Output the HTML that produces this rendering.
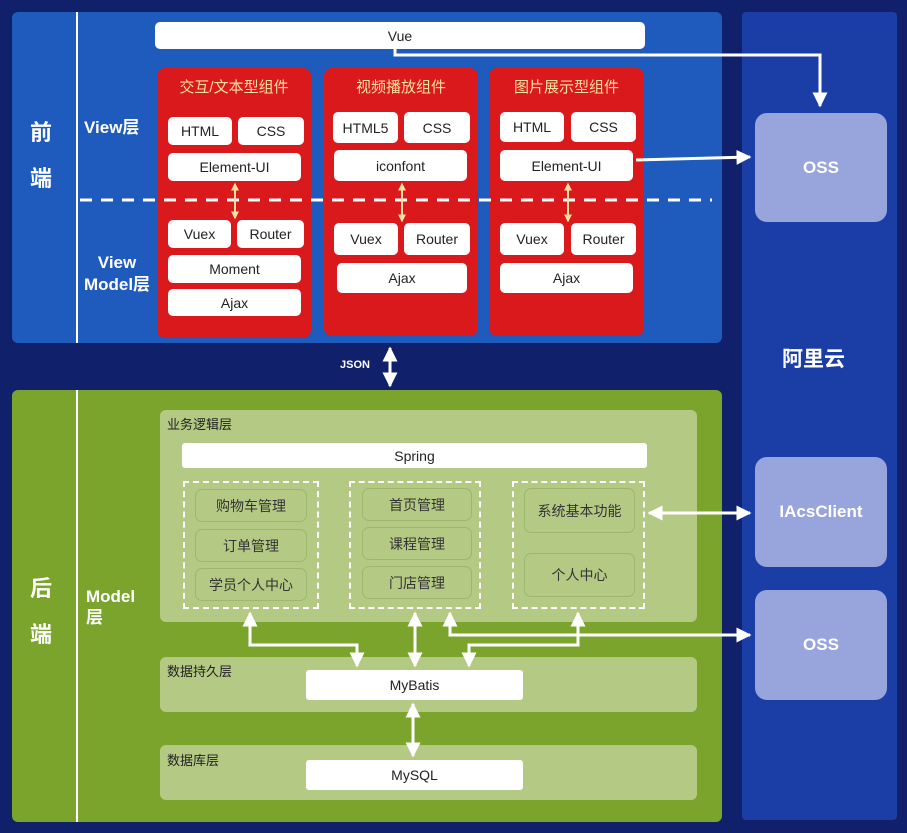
<!DOCTYPE html><html><head><meta charset="utf-8"><style>
body{margin:0;width:907px;height:833px;background:#10206a;position:relative;overflow:hidden;font-family:"Liberation Sans","Noto Sans CJK SC",sans-serif}
div{position:absolute;box-sizing:border-box}
.w{background:#fff;border-radius:5px;color:#222;font-size:14px;text-align:center;display:flex;align-items:center;justify-content:center}
.r{background:#d9191b;border-radius:8px}
.rt{color:#fbe0a0;font-size:15px;text-align:center;width:100%;top:8px}
.g{background:#b4ca84;border-radius:6px}
.gb{border:1px solid #9db86a;border-radius:7px;background:#b4ca84;color:#333;font-size:14px;display:flex;align-items:center;justify-content:center}
.dash{border:2px dashed #fff}
.oss{background:#98a4dc;border-radius:12px;color:#fff;font-weight:bold;font-size:17px;display:flex;align-items:center;justify-content:center}
.lab{color:#fff;font-weight:bold}
.gl{color:#222;font-size:13px}
</style></head><body>
<div style="left:12px;top:12px;width:710px;height:331px;background:#1e5bbd;border-radius:6px"></div>
<div style="left:76px;top:12px;width:2px;height:331px;background:#fff"></div>
<div style="left:742px;top:12px;width:155px;height:808px;background:#1a3ea6;border-radius:4px"></div>
<div style="left:12px;top:390px;width:710px;height:432px;background:#7ba42c;border-radius:6px"></div>
<div style="left:76px;top:390px;width:2px;height:432px;background:#fff"></div>

<div class="lab" style="left:30px;top:110px;font-size:22px;line-height:46px">前<br>端</div>
<div class="lab" style="left:84px;top:113px;font-size:17px">View层</div>
<div class="lab" style="left:78px;top:252px;font-size:17px;text-align:center;width:78px;line-height:22px">View<br>Model层</div>
<div class="lab" style="left:30px;top:566px;font-size:22px;line-height:46px">后<br>端</div>
<div class="lab" style="left:86px;top:586px;font-size:17px;line-height:21px">Model<br>层</div>
<div class="lab" style="left:782px;top:343px;font-size:21px">阿里云</div>
<div class="lab" style="left:340px;top:359px;font-size:11px">JSON</div>

<div class="w" style="left:155px;top:22px;width:490px;height:27px">Vue</div>

<div class="r" style="left:157px;top:68px;width:154px;height:270px"><div class="rt">交互/文本型组件</div></div>
<div class="r" style="left:324px;top:68px;width:154px;height:268px"><div class="rt">视频播放组件</div></div>
<div class="r" style="left:489px;top:68px;width:155px;height:268px"><div class="rt">图片展示型组件</div></div>

<div class="w" style="left:168px;top:117px;width:64px;height:28px">HTML</div>
<div class="w" style="left:238px;top:117px;width:66px;height:28px">CSS</div>
<div class="w" style="left:168px;top:153px;width:133px;height:28px">Element-UI</div>
<div class="w" style="left:168px;top:220px;width:63px;height:28px">Vuex</div>
<div class="w" style="left:237px;top:220px;width:67px;height:28px">Router</div>
<div class="w" style="left:168px;top:255px;width:133px;height:28px">Moment</div>
<div class="w" style="left:168px;top:289px;width:133px;height:27px">Ajax</div>

<div class="w" style="left:333px;top:112px;width:65px;height:31px">HTML5</div>
<div class="w" style="left:404px;top:112px;width:66px;height:31px">CSS</div>
<div class="w" style="left:334px;top:150px;width:133px;height:31px">iconfont</div>
<div class="w" style="left:334px;top:223px;width:64px;height:32px">Vuex</div>
<div class="w" style="left:404px;top:223px;width:66px;height:32px">Router</div>
<div class="w" style="left:337px;top:263px;width:130px;height:30px">Ajax</div>

<div class="w" style="left:500px;top:112px;width:64px;height:30px">HTML</div>
<div class="w" style="left:571px;top:112px;width:65px;height:30px">CSS</div>
<div class="w" style="left:500px;top:150px;width:133px;height:31px">Element-UI</div>
<div class="w" style="left:500px;top:223px;width:64px;height:32px">Vuex</div>
<div class="w" style="left:571px;top:223px;width:65px;height:32px">Router</div>
<div class="w" style="left:500px;top:263px;width:133px;height:30px">Ajax</div>

<div class="oss" style="left:755px;top:113px;width:132px;height:109px">OSS</div>
<div class="oss" style="left:755px;top:457px;width:132px;height:110px">IAcsClient</div>
<div class="oss" style="left:755px;top:590px;width:132px;height:110px">OSS</div>

<div class="g" style="left:160px;top:410px;width:537px;height:212px"></div>
<div class="g" style="left:160px;top:657px;width:537px;height:55px"></div>
<div class="g" style="left:160px;top:745px;width:537px;height:55px"></div>
<div class="gl" style="left:167px;top:414px">业务逻辑层</div>
<div class="gl" style="left:167px;top:661px">数据持久层</div>
<div class="gl" style="left:167px;top:750px">数据库层</div>
<div class="w" style="left:182px;top:443px;width:465px;height:25px;border-radius:3px">Spring</div>
<div class="dash" style="left:183px;top:481px;width:136px;height:128px"></div>
<div class="dash" style="left:349px;top:481px;width:132px;height:128px"></div>
<div class="dash" style="left:512px;top:481px;width:133px;height:128px"></div>
<div class="gb" style="left:195px;top:489px;width:112px;height:33px">购物车管理</div>
<div class="gb" style="left:195px;top:529px;width:112px;height:33px">订单管理</div>
<div class="gb" style="left:195px;top:568px;width:112px;height:33px">学员个人中心</div>
<div class="gb" style="left:362px;top:488px;width:110px;height:33px">首页管理</div>
<div class="gb" style="left:362px;top:527px;width:110px;height:33px">课程管理</div>
<div class="gb" style="left:362px;top:566px;width:110px;height:33px">门店管理</div>
<div class="gb" style="left:524px;top:488px;width:111px;height:45px">系统基本功能</div>
<div class="gb" style="left:524px;top:553px;width:111px;height:44px">个人中心</div>
<div class="w" style="left:306px;top:670px;width:217px;height:30px;border-radius:3px">MyBatis</div>
<div class="w" style="left:306px;top:760px;width:217px;height:30px;border-radius:3px">MySQL</div>

<svg width="907" height="833" style="position:absolute;left:0;top:0">
<defs><marker id="a" markerWidth="5" markerHeight="5" refX="4.5" refY="2.5" orient="auto-start-reverse" markerUnits="strokeWidth"><path d="M0,0L5,2.5L0,5z" fill="#fff"/></marker>
<marker id="b" markerWidth="4" markerHeight="4" refX="3.3" refY="2" orient="auto-start-reverse" markerUnits="strokeWidth"><path d="M0,0L4,2L0,4z" fill="#fbe0a0"/></marker></defs>
<line x1="80" y1="200" x2="712" y2="200" stroke="#fff" stroke-width="3" stroke-dasharray="12,9"/>
<g stroke="#fbe0a0" stroke-width="2" marker-start="url(#b)" marker-end="url(#b)">
<line x1="235" y1="184" x2="235" y2="218"/><line x1="402" y1="184" x2="402" y2="221"/><line x1="568" y1="184" x2="568" y2="221"/></g>
<g stroke="#fff" stroke-width="3" fill="none">
<polyline points="395,49 395,55 820,55 820,106" marker-end="url(#a)"/>
<line x1="636" y1="160" x2="750" y2="157" marker-end="url(#a)"/>
<line x1="390" y1="348" x2="390" y2="386" marker-start="url(#a)" marker-end="url(#a)"/>
<line x1="649" y1="513" x2="750" y2="513" marker-start="url(#a)" marker-end="url(#a)"/>
<polyline points="250,613 250,645 357,645 357,666" marker-start="url(#a)" marker-end="url(#a)"/>
<line x1="415" y1="613" x2="415" y2="666" marker-start="url(#a)" marker-end="url(#a)"/>
<polyline points="450,613 450,635 750,635" marker-start="url(#a)" marker-end="url(#a)"/>
<polyline points="578,613 578,645 469,645 469,666" marker-start="url(#a)" marker-end="url(#a)"/>
<line x1="413" y1="704" x2="413" y2="756" marker-start="url(#a)" marker-end="url(#a)"/>
</g></svg>
</body></html>
